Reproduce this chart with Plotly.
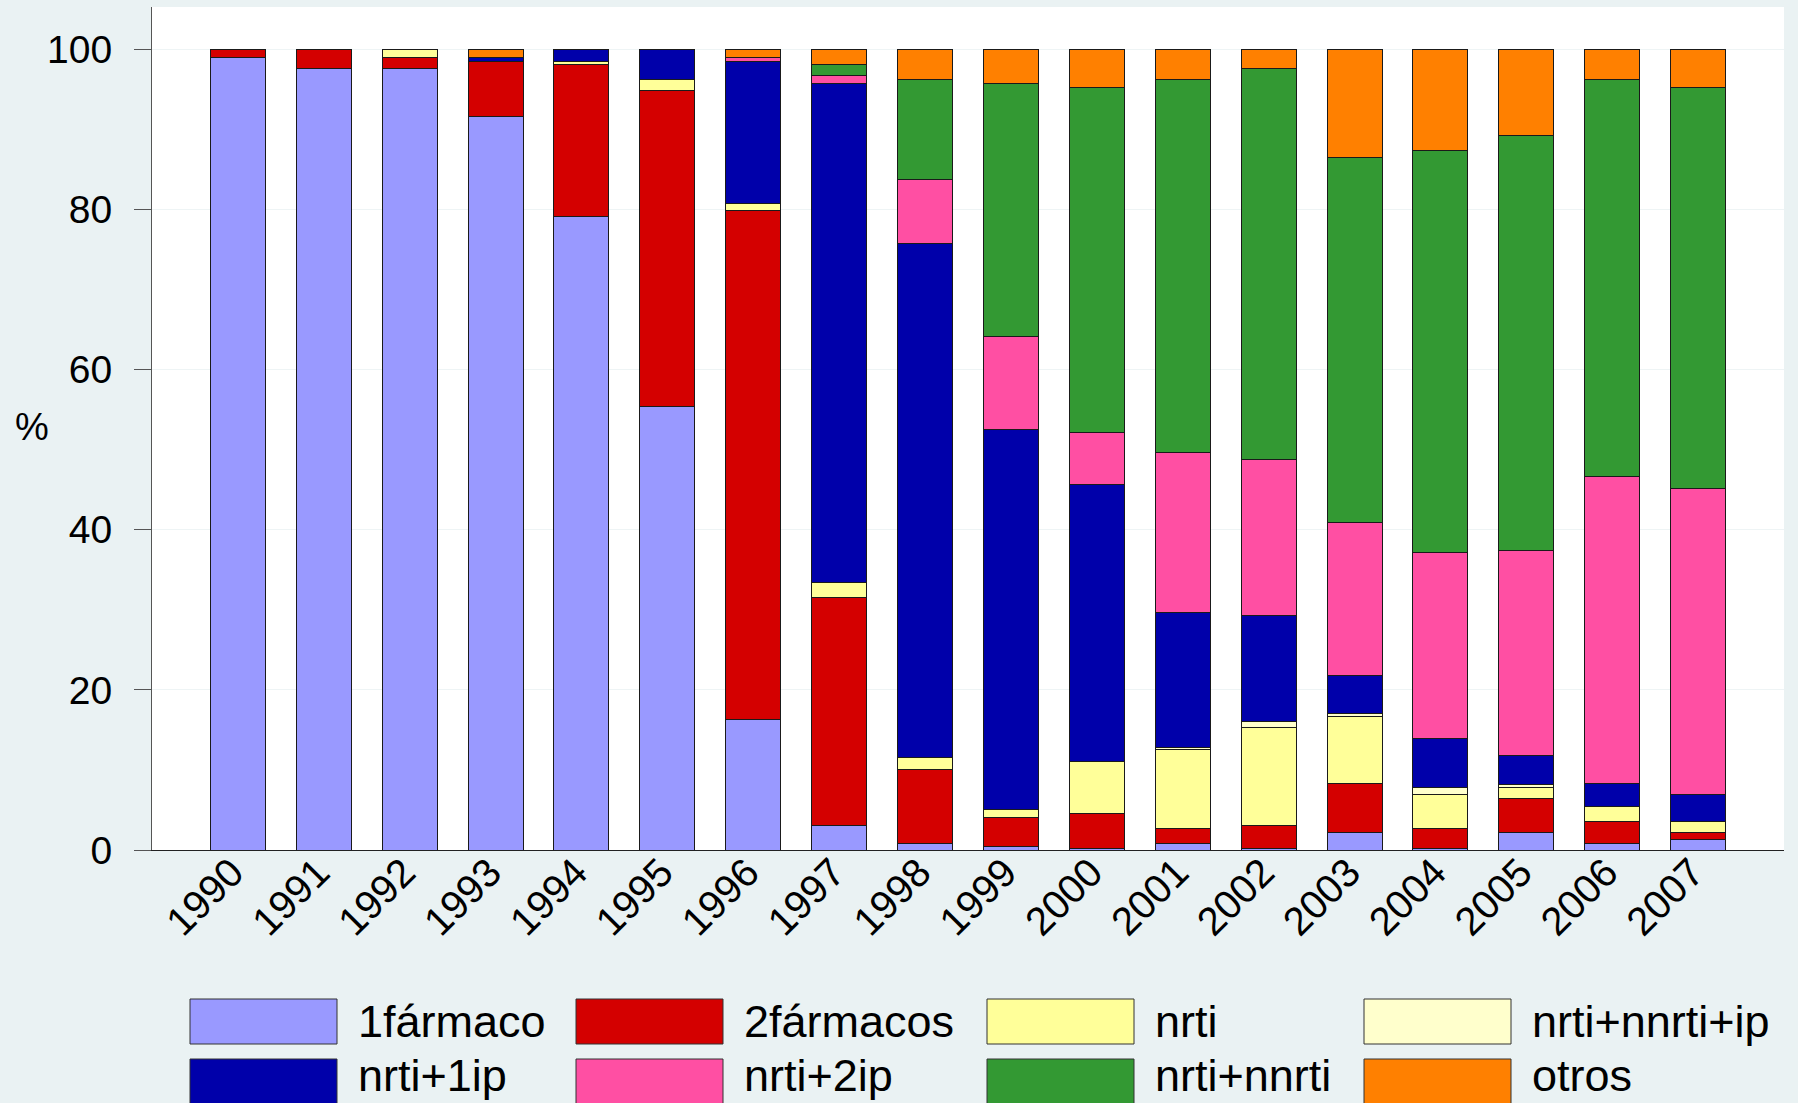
import plotly.graph_objects as go

years = [1990, 1991, 1992, 1993, 1994, 1995, 1996, 1997, 1998, 1999,
         2000, 2001, 2002, 2003, 2004, 2005, 2006, 2007]

series_names = ["1fármaco", "2fármacos", "nrti", "nrti+nnrti+ip",
                "nrti+1ip", "nrti+2ip", "nrti+nnrti", "otros"]

un_farmaco = [99.0, 97.6, 97.6, 91.6, 79.1, 55.4, 16.3, 3.1, 0.8, 0.4,
              0.2, 0.8, 0.2, 2.2, 0.2, 2.2, 0.8, 1.3]
dos_farmacos = [1.0, 2.4, 1.4, 6.9, 19.0, 39.5, 63.6, 28.4, 9.3, 3.7,
                4.4, 1.9, 2.9, 6.1, 2.5, 4.2, 2.8, 0.9]
nrti = [0, 0, 1.0, 0, 0.4, 1.3, 0.9, 1.9, 1.4, 0.9,
        6.4, 9.8, 12.2, 8.4, 4.2, 1.4, 1.8, 1.4]
nrti_nnrti_ip = [0, 0, 0, 0, 0, 0, 0, 0, 0, 0,
                 0, 0.3, 0.8, 0.4, 0.9, 0.4, 0, 0]
nrti_1ip = [0, 0, 0, 0.5, 1.5, 3.8, 17.7, 62.4, 64.3, 47.5,
            34.6, 16.9, 13.15, 4.7, 6.1, 3.6, 2.9, 3.3]
nrti_2ip = [0, 0, 0, 0, 0, 0, 0.5, 1.0, 7.9, 11.7,
            6.5, 20.0, 19.55, 19.1, 23.3, 25.6, 38.3, 38.3]
nrti_nnrti = [0, 0, 0, 0, 0, 0, 0, 1.3, 12.5, 31.6,
              43.2, 46.5, 48.85, 45.6, 50.2, 51.9, 49.6, 50.1]
otros = [0, 0, 0, 1.0, 0, 0, 1.0, 1.9, 3.8, 4.2,
         4.7, 3.8, 2.35, 13.5, 12.6, 10.7, 3.8, 4.7]

y_ticks = [0, 20, 40, 60, 80, 100]

series_values = [un_farmaco, dos_farmacos, nrti, nrti_nnrti_ip,
                 nrti_1ip, nrti_2ip, nrti_nnrti, otros]
colors = ["#9999ff", "#d40000", "#ffff99", "#ffffcc",
          "#0000aa", "#ff4fa3", "#339933", "#ff8000"]

FONT = "Liberation Sans, Arial, sans-serif"
BG = "#eaf2f3"
W, H = 1798, 1103
L, R, T, B = 152, 14, 7, 253
PW, PH = W - L - R, H - T - B


def px_to_paper(px, py):
    return (px - L) / PW, (H - B - py) / PH


fig = go.Figure()
for name, vals, col in zip(series_names, series_values, colors):
    fig.add_trace(go.Bar(
        x=years, y=vals, name=name,
        marker=dict(color=col, line=dict(color="#1a1a1a", width=1)),
        width=0.64, showlegend=False,
    ))

shapes = []
annotations = []
col_x = [190, 576, 987, 1364]
row_y = [999, 1059]
sw_w, sw_h = 147, 45
for i, (name, col) in enumerate(zip(series_names, colors)):
    r, c = divmod(i, 4)
    x0, y0 = px_to_paper(col_x[c], row_y[r])
    x1, y1 = px_to_paper(col_x[c] + sw_w, row_y[r] + sw_h)
    shapes.append(dict(type="rect", xref="paper", yref="paper",
                       x0=x0, x1=x1, y0=y1, y1=y0,
                       fillcolor=col, line=dict(color="#333333", width=1)))
    if r == 0:
        tx, ty = px_to_paper(col_x[c] + sw_w + 20, row_y[r] + sw_h / 2)
        yanchor = "middle"
    else:
        tx, ty = px_to_paper(col_x[c] + sw_w + 20, H - 1)
        yanchor = "bottom"
    annotations.append(dict(xref="paper", yref="paper", x=tx, y=ty,
                            xanchor="left", yanchor=yanchor, showarrow=False,
                            borderpad=0,
                            text=name, font=dict(family=FONT, size=45, color="black")))

tx, ty = px_to_paper(32, 427)
annotations.append(dict(xref="paper", yref="paper", x=tx, y=ty,
                        xanchor="center", yanchor="middle", showarrow=False,
                        text="%", font=dict(family=FONT, size=38, color="black")))

fig.update_layout(
    barmode="stack",
    width=W, height=H,
    margin=dict(l=L, r=R, t=T, b=B, pad=0),
    paper_bgcolor=BG,
    plot_bgcolor="white",
    font=dict(family=FONT, color="black"),
    shapes=shapes,
    annotations=annotations,
    xaxis=dict(
        range=[1989, 2008],
        tickmode="array", tickvals=years, ticktext=[str(y) for y in years],
        tickangle=-45, tickfont=dict(size=40, family=FONT, color="black"),
        showgrid=False, zeroline=False,
        showline=True, linecolor="#222222", linewidth=1,
        ticks="", ticklen=0,
        ticklabelstandoff=-18,
        ticklabelshift=-6,
    ),
    yaxis=dict(
        range=[0, 105.3],
        tickmode="array", tickvals=y_ticks,
        tickfont=dict(size=39, family=FONT, color="black"),
        showgrid=True, gridcolor="#eef4f5", gridwidth=1,
        zeroline=False,
        showline=True, linecolor="#555555", linewidth=1,
        ticks="outside", ticklen=17, tickcolor="#555555", tickwidth=1,
        ticklabelstandoff=14,
    ),
)

fig.write_html(
    "out.html",
    config={"displayModeBar": False},
    post_script="document.body.style.margin='0px';document.body.style.background='" + BG + "';",
)
